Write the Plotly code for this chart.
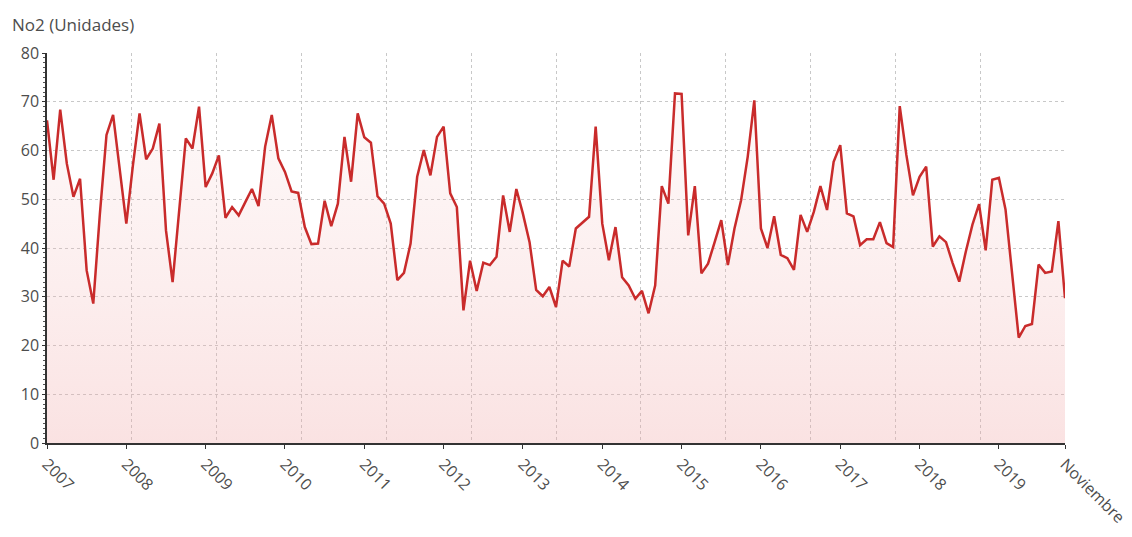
import plotly.graph_objects as go

# Monthly NO2 values, January 2007 to November 2019
no2_values = [
    66.2, 54.0, 68.4, 57.3, 50.5, 54.2, 35.4, 28.6, 47.0, 63.2, 67.3, 56.0,   # 2007
    45.0, 57.0, 67.6, 58.2, 60.4, 65.5, 43.6, 33.0, 47.0, 62.5, 60.4, 69.0,   # 2008
    52.5, 55.3, 59.0, 46.2, 48.4, 46.7, 49.4, 52.1, 48.6, 60.8, 67.3, 58.4,   # 2009
    55.6, 51.6, 51.3, 44.3, 40.8, 40.9, 49.7, 44.5, 49.1, 62.8, 53.6, 67.6,   # 2010
    62.7, 61.6, 50.6, 49.1, 45.0, 33.4, 34.9, 40.9, 54.6, 60.1, 54.9, 62.8,   # 2011
    64.9, 51.2, 48.4, 27.2, 37.4, 31.2, 37.0, 36.5, 38.2, 50.8, 43.3, 52.1,   # 2012
    47.0, 41.2, 31.4, 30.1, 32.0, 27.9, 37.4, 36.2, 44.0, 45.3, 46.4, 64.9,   # 2013
    45.0, 37.5, 44.3, 34.0, 32.3, 29.6, 31.2, 26.6, 32.3, 52.7, 49.1, 71.7,   # 2014
    71.6, 42.6, 52.7, 34.8, 36.8, 41.2, 45.7, 36.5, 44.0, 49.8, 58.7, 70.3,   # 2015
    44.0, 40.0, 46.5, 38.6, 37.9, 35.5, 46.8, 43.3, 47.4, 52.7, 47.8, 57.7,   # 2016
    61.1, 47.1, 46.5, 40.6, 41.8, 41.8, 45.3, 41.0, 40.2, 69.1, 59.1, 50.8,   # 2017
    54.6, 56.7, 40.3, 42.4, 41.2, 36.9, 33.1, 39.3, 44.8, 49.0, 39.5, 54.0,   # 2018
    54.4, 47.9, 34.7, 21.6, 24.0, 24.4, 36.6, 34.9, 35.2, 45.5, 29.7,         # 2019 (Jan-Nov)
]
month_index = list(range(len(no2_values)))

tick_positions = [0, 12, 24, 36, 48, 60, 72, 84, 96, 108, 120, 132, 144, 154]
tick_labels = ["2007", "2008", "2009", "2010", "2011", "2012", "2013", "2014",
               "2015", "2016", "2017", "2018", "2019", "Noviembre"]
y_title = "No2 (Unidades)"

FONT = "Open Sans"
TXT = "#4d4d4d"

fig = go.Figure()
fig.add_trace(go.Scatter(
    x=month_index, y=no2_values, mode="lines",
    line=dict(color="#c92b2b", width=2.5),
    fill="tozeroy",
    fillgradient=dict(type="vertical",
                      colorscale=[[0, "rgba(240,165,165,0.32)"], [1, "rgba(245,200,200,0.12)"]]),
    hoverinfo="x+y", showlegend=False,
))

n_last = len(no2_values) - 1
fig.update_layout(
    width=1132, height=537,
    margin=dict(l=39, r=75, t=45, b=102),
    paper_bgcolor="white", plot_bgcolor="white",
    font=dict(family=FONT, size=15, color=TXT),
    xaxis=dict(
        range=[0, n_last], tickmode="array", tickvals=tick_positions, ticktext=tick_labels,
        tickangle=45, showgrid=False, zeroline=False, automargin=False,
        showline=True, linecolor="#333333", linewidth=1.5,
        ticks="outside", ticklen=4, tickcolor="#333333",
        minor=dict(tick0=0, dtick=n_last / 12, showgrid=True, gridcolor="#c8c8c8",
                   griddash="dot", gridwidth=1, ticks=""),
        tickfont=dict(family=FONT, size=16, color=TXT),
    ),
    yaxis=dict(
        range=[0, 80], dtick=10, showgrid=True, gridcolor="#c8c8c8", griddash="dot",
        gridwidth=1, zeroline=False, showline=True, linecolor="#333333", linewidth=1.5,
        ticks="outside", ticklen=3, tickcolor="#333333", automargin=False,
        minor=dict(dtick=1, ticks="outside", ticklen=2, tickcolor="#555555"),
        tickfont=dict(family=FONT, size=16, color=TXT),
    ),
    annotations=[dict(
        text=y_title, xref="paper", yref="paper", x=-0.0363, y=1.072,
        xanchor="left", yanchor="middle", showarrow=False,
        font=dict(family=FONT, size=17, color=TXT),
    )],
)

fig.write_html("out.html")
